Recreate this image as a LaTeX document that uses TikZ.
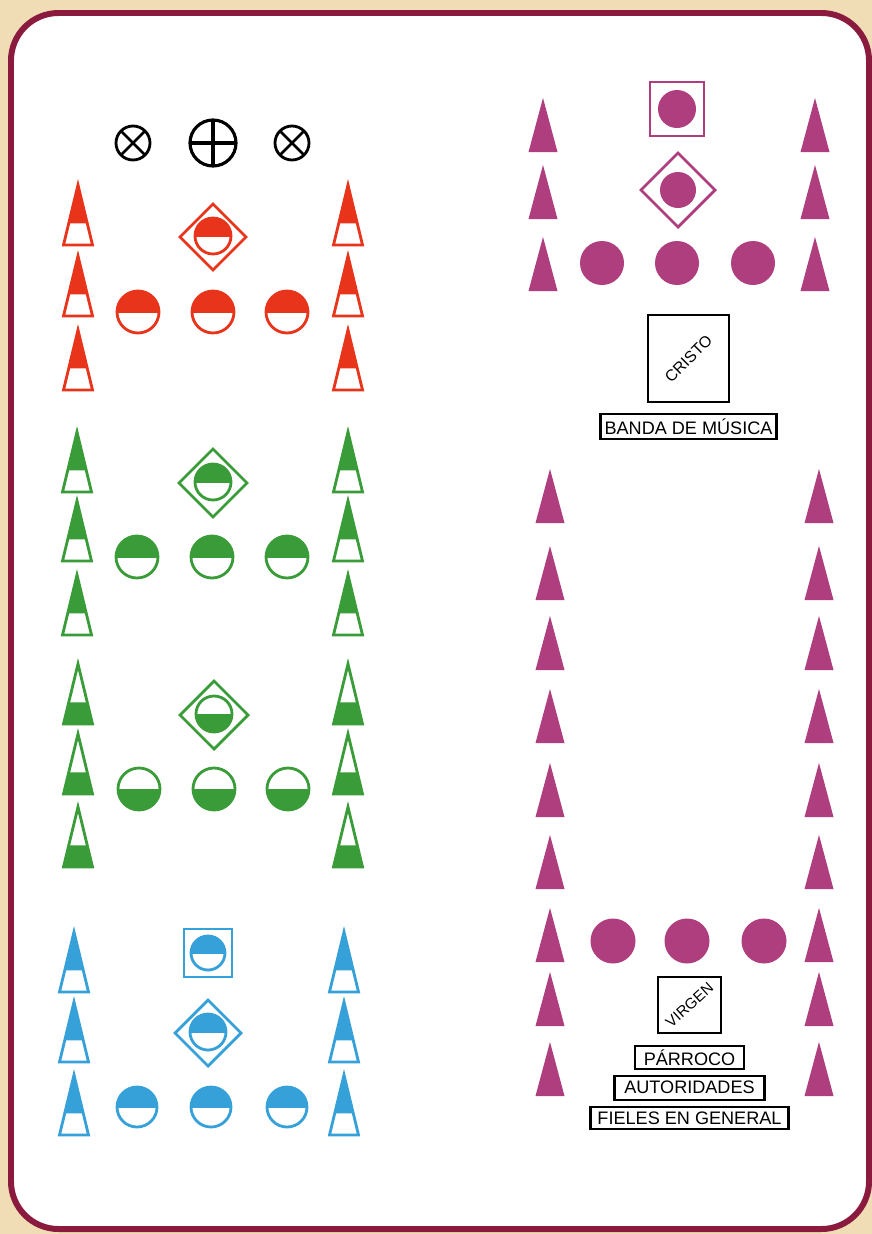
\documentclass[tikz,border=0pt]{standalone}
\usepackage{graphicx}
\usepackage{fontspec}
\setmainfont{Liberation Sans}
\usetikzlibrary{positioning}
\definecolor{paper}{RGB}{240,221,182}
\definecolor{frame}{RGB}{138,27,62}
\definecolor{redgrp}{RGB}{232,52,26}
\definecolor{greengrp}{RGB}{58,156,56}
\definecolor{bluegrp}{RGB}{54,160,217}
\definecolor{purplegrp}{RGB}{174,62,126}

\begin{document}
\begin{tikzpicture}[
    x=0.02cm, y=-0.02cm,
    lw/.style={line width=1.6pt},
    signbox/.style={draw, line width=1.2pt, inner sep=0pt, font=\fontsize{10.3}{12}\selectfont},
    imagebox/.style={draw, line width=1.2pt, inner sep=0pt, font=\fontsize{9}{10}\selectfont},
    pics/conetop/.style={code={
        \fill[#1] (0,-30) -- (-9.3,8.4) -- (9.3,8.4) -- cycle;
        \draw[#1, lw] (0,-30) -- (-14.5,30) -- (14.5,30) -- cycle;
    }},
    pics/conebase/.style={code={
        \fill[#1] (-9.3,8.4) -- (9.3,8.4) -- (14.5,30) -- (-14.5,30) -- cycle;
        \draw[#1, lw] (0,-30) -- (-14.5,30) -- (14.5,30) -- cycle;
    }},
    pics/conefull/.style={code={
        \fill[#1] (0,-27) -- (-14.5,27) -- (14.5,27) -- cycle;
    }},
    pics/headtop/.style 2 args={code={
        \begin{scope}
            \clip (-#2-3,-#2-3) rectangle (#2+3,0);
            \fill[#1] (0,0) circle[radius=#2];
        \end{scope}
        \draw[#1, lw] (0,0) circle[radius=#2];
    }},
    pics/headbase/.style 2 args={code={
        \begin{scope}
            \clip (-#2-3,0) rectangle (#2+3,#2+3);
            \fill[#1] (0,0) circle[radius=#2];
        \end{scope}
        \draw[#1, lw] (0,0) circle[radius=#2];
    }},
    pics/dot/.style 2 args={code={\fill[#1] (0,0) circle[radius=#2];}},
    pics/rombo/.style 2 args={code={\draw[#1, lw] (0,-#2) -- (#2,0) -- (0,#2) -- (-#2,0) -- cycle;}},
    pics/cuadro/.style 2 args={code={\draw[#1, lw] (-#2,-#2) rectangle (#2,#2);}},
    pics/crosscirc/.style={code={
        \draw[line width=1.6pt] (0,0) circle[radius=17];
        \draw[line width=1.6pt] (-12,-12) -- (12,12) (-12,12) -- (12,-12);
    }},
    pics/pluscirc/.style={code={
        \draw[line width=1.8pt] (0,0) circle[radius=23];
        \draw[line width=1.8pt] (-23,0) -- (23,0) (0,-23) -- (0,23);
    }}
]
    % Sheet
    \fill[paper] (0,0) rectangle (872,1234);
    \draw[frame, fill=white, line width=3.4pt, rounded corners=0.95cm] (11,13) rectangle (869,1229);

    % Cross and candlesticks
    \pic at (133,143) {crosscirc};
    \pic at (213,143) {pluscirc};
    \pic at (292,143) {crosscirc};

    % Red group
    \foreach \y in {215,286,360} {
        \pic at (78,\y) {conetop=redgrp};
        \pic at (348,\y) {conetop=redgrp};
    }
    \pic at (213,237) {rombo={redgrp}{33}};
    \pic at (213,236) {headtop={redgrp}{18}};
    \foreach \x in {138,213,287}
        \pic at (\x,312) {headtop={redgrp}{21}};

    % Green group (top filled)
    \foreach \y in {462,531,605} {
        \pic at (77,\y) {conetop=greengrp};
        \pic at (348,\y) {conetop=greengrp};
    }
    \pic at (213,483) {rombo={greengrp}{34}};
    \pic at (213,482) {headtop={greengrp}{18}};
    \foreach \x in {137,212,287}
        \pic at (\x,557) {headtop={greengrp}{21}};

    % Green group (base filled)
    \foreach \y in {694,764,837} {
        \pic at (78,\y) {conebase=greengrp};
        \pic at (348,\y) {conebase=greengrp};
    }
    \pic at (214,715) {rombo={greengrp}{34}};
    \pic at (214,714) {headbase={greengrp}{18}};
    \foreach \x in {139,214,288}
        \pic at (\x,789) {headbase={greengrp}{21}};

    % Blue group
    \foreach \y in {962,1032,1105} {
        \pic at (74,\y) {conetop=bluegrp};
        \pic at (344,\y) {conetop=bluegrp};
    }
    \pic at (208,953) {cuadro={bluegrp}{24}};
    \pic at (208,953) {headtop={bluegrp}{17}};
    \pic at (208,1033) {rombo={bluegrp}{33}};
    \pic at (208,1032) {headtop={bluegrp}{18}};
    \foreach \x in {137,211,287}
        \pic at (\x,1107) {headtop={bluegrp}{20}};

    % Purple group, head
    \foreach \y in {125,192,264} {
        \pic at (543,\y) {conefull=purplegrp};
        \pic at (815,\y) {conefull=purplegrp};
    }
    \pic at (677,109) {cuadro={purplegrp}{27}};
    \pic at (677,109) {dot={purplegrp}{19}};
    \pic at (678,190) {rombo={purplegrp}{37}};
    \pic at (678,190) {dot={purplegrp}{18}};
    \foreach \x in {602,677,753}
        \pic at (\x,263) {dot={purplegrp}{22}};

    \node[imagebox, minimum width=1.62cm, minimum height=1.74cm] (cristo) at (688.5,358.5) {\rotatebox{45}{CRISTO}};
    \node[signbox, minimum width=3.52cm, minimum height=0.5cm, below=0.2cm of cristo] (banda) {BANDA DE MÚSICA};

    % Purple group, rows
    \foreach \y in {496,573,643,716,790,862,935,999,1069} {
        \pic at (550,\y) {conefull=purplegrp};
        \pic at (819,\y) {conefull=purplegrp};
    }
    \foreach \x in {613,687,764}
        \pic at (\x,941) {dot={purplegrp}{22.5}};

    \node[imagebox, minimum width=1.26cm, minimum height=1.12cm, font=\fontsize{8.6}{10}\selectfont] (virgen) at (689.5,1005) {\rotatebox{42}{VIRGEN}};
    \node[signbox, minimum width=2.18cm, minimum height=0.46cm, below=0.22cm of virgen] (parroco) {PÁRROCO};
    \node[signbox, minimum width=3.0cm, minimum height=0.48cm, below=0.09cm of parroco] (autoridades) {AUTORIDADES};
    \node[signbox, minimum width=3.96cm, minimum height=0.44cm, below=0.1cm of autoridades] (fieles) {FIELES EN GENERAL};
\end{tikzpicture}
\end{document}
